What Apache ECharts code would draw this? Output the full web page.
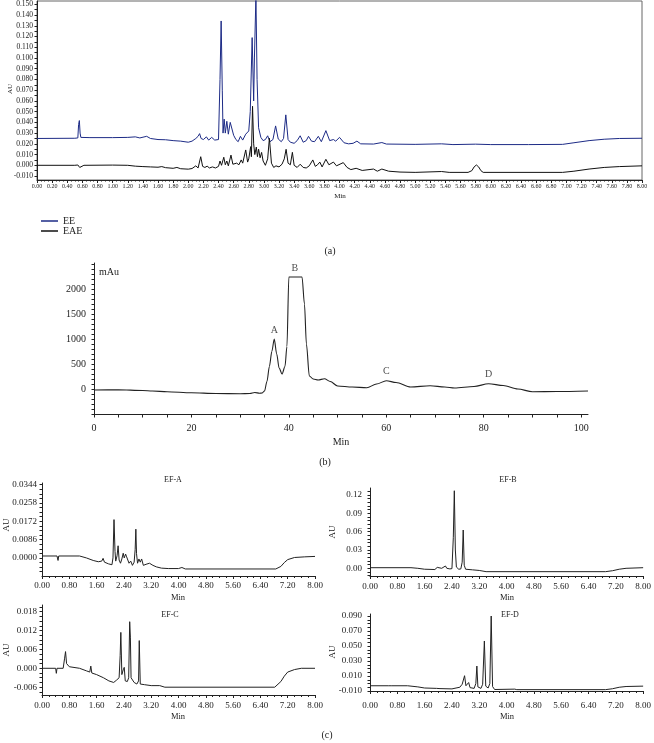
<!DOCTYPE html>
<html>
<head>
<meta charset="utf-8">
<title>Chromatograms</title>
<script src="https://cdn.jsdelivr.net/npm/echarts@6/dist/echarts.min.js"></script>
<style>
  html, body { margin: 0; padding: 0; background: #fff; }
  #chart { width: 654px; height: 743px; }
</style>
</head>
<body>
<div id="chart"></div>
<script>
// ---- (a) EE / EAE, time (min) vs absorbance (AU)
const eeTime = [0, 0.5, 0.54, 0.55, 0.56, 0.57, 0.58, 0.7, 1.0, 1.2, 1.3, 1.36, 1.45, 1.5, 1.6, 1.7, 1.8, 1.9, 2.0, 2.05,
  2.1, 2.13, 2.15, 2.17, 2.2, 2.24, 2.27, 2.31, 2.35, 2.4, 2.42, 2.435, 2.45, 2.46, 2.475, 2.49, 2.51, 2.53, 2.555, 2.58,
  2.6, 2.63, 2.66, 2.69, 2.72, 2.76, 2.8, 2.82, 2.845, 2.865, 2.875, 2.895, 2.91, 2.93, 2.96, 2.99, 3.02, 3.05, 3.08, 3.12,
  3.155, 3.19, 3.23, 3.26, 3.29, 3.32, 3.35, 3.4, 3.44, 3.48, 3.52, 3.56, 3.59, 3.63, 3.67, 3.72, 3.76, 3.82, 3.87, 3.92,
  3.95, 4.0, 4.06, 4.12, 4.18, 4.23, 4.28, 4.45, 4.56, 4.62, 5.0, 5.35, 5.5, 5.8, 6.0, 6.5, 6.95, 7.1, 7.3, 7.5, 7.7, 8.0];
const eeAU = [0.025, 0.0252, 0.0255, 0.038, 0.0417, 0.03, 0.026, 0.0258, 0.0258, 0.026, 0.0265, 0.0255, 0.027, 0.025, 0.024, 0.0238, 0.023, 0.0225, 0.0215, 0.0225,
  0.025, 0.027, 0.0295, 0.025, 0.024, 0.0265, 0.0235, 0.026, 0.0235, 0.024, 0.08, 0.1345, 0.07, 0.03, 0.043, 0.03, 0.041, 0.029, 0.04, 0.04,
  0.028, 0.024, 0.022, 0.027, 0.0235, 0.029, 0.032, 0.05, 0.119, 0.06, 0.1, 0.158, 0.08, 0.035, 0.026, 0.023, 0.024, 0.0275, 0.022, 0.024,
  0.0367, 0.0245, 0.022, 0.025, 0.047, 0.024, 0.0215, 0.0205, 0.023, 0.0275, 0.0215, 0.023, 0.027, 0.0225, 0.022, 0.027, 0.022, 0.0323, 0.023, 0.024,
  0.0225, 0.026, 0.021, 0.02, 0.0205, 0.0225, 0.02, 0.0198, 0.0212, 0.0198, 0.0195, 0.02, 0.0193, 0.0197, 0.0193, 0.0193, 0.0195, 0.021, 0.023, 0.0243, 0.025, 0.0252];

const eaeTime = [0, 0.5, 0.54, 0.555, 0.565, 0.58, 0.62, 1.0, 1.2, 1.3, 1.4, 1.5, 1.6, 1.65, 1.7, 1.8, 1.85, 1.9, 2.0, 2.05,
  2.1, 2.13, 2.165, 2.19, 2.22, 2.25, 2.28, 2.32, 2.36, 2.4, 2.42, 2.44, 2.47, 2.49, 2.51, 2.53, 2.565, 2.59, 2.61, 2.64,
  2.67, 2.7, 2.72, 2.76, 2.785, 2.8, 2.825, 2.835, 2.85, 2.865, 2.88, 2.9, 2.915, 2.93, 2.95, 2.97, 2.99, 3.02, 3.05, 3.073,
  3.1, 3.13, 3.16, 3.2, 3.24, 3.27, 3.294, 3.32, 3.35, 3.377, 3.4, 3.44, 3.48, 3.52, 3.56, 3.6, 3.647, 3.68, 3.71, 3.74,
  3.77, 3.82, 3.86, 3.92, 3.96, 4.05, 4.1, 4.15, 4.22, 4.3, 4.45, 4.5, 4.56, 4.65, 4.8, 5.0, 5.35, 5.45, 5.7, 5.75,
  5.78, 5.81, 5.84, 5.87, 5.9, 6.95, 7.1, 7.3, 7.5, 7.7, 8.0];
const eaeAU = [0, 0, 0.0003, 0.002, -0.002, -0.001, 0, 0.0002, 0, -0.0008, -0.0012, -0.0015, -0.0018, -0.0012, -0.0022, -0.0028, -0.002, -0.0032, -0.0036, -0.003,
  -0.0005, -0.0025, 0.008, -0.001, -0.002, -0.0008, -0.0025, -0.0015, -0.0025, -0.001, 0.004, 0, 0.0075, 0.0005, 0.004, -0.0005, 0.0095, 0.001, -0.0005, 0.002,
  0.0005, 0.005, 0.002, 0.0143, 0.003, 0.006, 0.0174, 0.008, 0.055, 0.02, 0.01, 0.017, 0.008, 0.015, 0.007, 0.012, 0.004, 0, 0.006, 0.0252,
  0.002, -0.002, -0.0005, -0.0015, 0.001, 0.006, 0.0149, 0.002, 0.0005, 0.0121, 0, -0.002, 0.001, -0.002, -0.0025, -0.0005, 0.005, -0.001, 0.0005, 0.003,
  -0.0015, 0.0056, 0.0005, 0.003, -0.0005, 0.0025, -0.002, -0.004, -0.0028, -0.0048, -0.0035, -0.0055, -0.0035, -0.0055, -0.0063, -0.0066, -0.0058, -0.0066, -0.0066, -0.005,
  -0.0015, 0.0003, -0.0015, -0.005, -0.0066, -0.0066, -0.0055, -0.0035, -0.002, -0.0012, -0.0005];

// ---- (b) time (min) vs mAu, peaks A-D
const bTime = [0, 5, 10, 12, 15, 20, 25, 30, 32, 33, 34, 34.5, 35, 35.5, 36, 36.5, 37, 37.5, 38, 38.6,
  39.2, 39.6, 40, 42.7, 43.2, 43.6, 44.2, 45, 46, 47.3, 48.5, 50, 53, 56, 58, 60, 62, 65, 69, 72,
  74, 78, 81, 84, 87, 90, 95, 101.4];
const bMau = [-20, -15, -30, -40, -55, -75, -90, -95, -90, -70, -85, -80, -40, 150, 450, 750, 1000, 700, 420, 300,
  450, 850, 2240, 2240, 1700, 900, 260, 200, 180, 205, 150, 60, 40, 25, 100, 165, 130, 40, 65, 40,
  20, 50, 105, 70, 0, -55, -50, -40];
const peakNames = ['A', 'B', 'C', 'D'];
const peakTimes = [37, 41.2, 60, 81];
const peakMau = [1000, 2240, 165, 105];

// ---- (c) four fractions, time (min) vs AU
const efATime = [0, 0.44, 0.47, 0.49, 1.1, 1.3, 1.5, 1.65, 1.75, 1.79, 1.83, 1.95, 2.05, 2.08, 2.11, 2.14, 2.16, 2.2, 2.23, 2.26,
  2.3, 2.34, 2.38, 2.41, 2.45, 2.48, 2.52, 2.55, 2.6, 2.65, 2.7, 2.73, 2.75, 2.77, 2.8, 2.84, 2.88, 2.92, 2.97, 3.05,
  3.15, 3.25, 3.35, 3.5, 3.7, 4.0, 4.1, 4.2, 6.85, 7.0, 7.1, 7.2, 7.4, 7.7, 8.0];
const efAAU = [0.0009, 0.0009, -0.0012, 0.0009, 0.0009, 0, -0.0012, -0.0018, -0.0015, -0.0002, -0.002, -0.0028, -0.0032, 0, 0.018, 0.003, -0.0015, 0.001, 0.0057, -0.001,
  -0.0025, -0.0005, 0.0022, 0, 0.0018, 0.0005, 0.001, -0.0025, -0.0015, -0.0035, -0.002, 0.004, 0.0135, 0.002, -0.0025, -0.0005, -0.002, -0.0005, -0.0035, -0.003,
  -0.0025, -0.0035, -0.0042, -0.0048, -0.005, -0.005, -0.0045, -0.0052, -0.0052, -0.004, -0.0022, -0.0008, 0.0002, 0.0005, 0.0007];

const efBTime = [0, 1.2, 1.4, 1.6, 1.9, 1.97, 2.02, 2.1, 2.15, 2.21, 2.25, 2.29, 2.34, 2.4, 2.44, 2.47, 2.5, 2.53, 2.6, 2.66,
  2.7, 2.73, 2.76, 2.8, 3.0, 3.2, 3.4, 6.9, 7.1, 7.3, 7.5, 8.0];
const efBAU = [0.001, 0.001, 0, -0.0015, -0.002, 0.0015, -0.0015, 0, -0.001, 0.0038, 0, 0.002, -0.001, -0.0005, 0.05, 0.127, 0.03, 0.002, -0.0015, -0.001,
  0.01, 0.0627, 0.005, -0.0015, -0.0025, -0.0035, -0.0055, -0.0055, -0.004, -0.0015, 0, 0.001];

const efCTime = [0, 0.4, 0.42, 0.44, 0.62, 0.66, 0.69, 0.72, 0.8, 1.1, 1.3, 1.4, 1.43, 1.46, 1.6, 1.8, 1.96, 2.1, 2.18, 2.22,
  2.26, 2.29, 2.31, 2.34, 2.38, 2.41, 2.44, 2.5, 2.54, 2.57, 2.59, 2.61, 2.65, 2.7, 2.78, 2.83, 2.85, 2.88, 3.0, 3.2,
  3.45, 3.6, 6.82, 7.0, 7.1, 7.2, 7.4, 7.6, 8.0];
const efCAU = [0, 0, -0.0016, 0, 0, 0.003, 0.0053, 0.0015, 0.0005, 0, -0.0008, -0.0012, 0.0007, -0.0015, -0.002, -0.003, -0.004, -0.0045, -0.0038, -0.0035,
  -0.003, 0.004, 0.0114, -0.002, -0.0005, 0.0003, -0.004, -0.0042, -0.003, 0.0148, 0.0099, -0.003, -0.0035, -0.0045, -0.005, -0.004, 0.0088, -0.005, -0.0052, -0.0055,
  -0.0055, -0.006, -0.006, -0.0042, -0.0025, -0.0012, -0.0004, 0, 0];

const efDTime = [0, 0.55, 0.58, 0.62, 1.1, 1.4, 1.6, 1.95, 2.0, 2.05, 2.4, 2.52, 2.56, 2.63, 2.7, 2.77, 2.81, 2.85, 2.89, 2.93,
  3.05, 3.1, 3.13, 3.16, 3.25, 3.3, 3.35, 3.39, 3.46, 3.51, 3.55, 3.59, 3.65, 4.24, 4.3, 6.9, 7.1, 7.3, 7.5, 8.0];
const efDAU = [-0.003, -0.003, -0.005, -0.003, -0.003, -0.0045, -0.006, -0.0065, -0.005, -0.0068, -0.0072, -0.006, -0.007, -0.005, -0.001, 0.0104, -0.003, -0.002, 0.0013, -0.0055,
  -0.0065, 0, 0.0233, -0.0045, -0.0065, -0.001, 0.0567, -0.0035, -0.006, 0, 0.09, -0.004, -0.008, -0.0075, -0.0082, -0.0082, -0.007, -0.005, -0.004, -0.0035];

const serif = 'Liberation Serif';
const ink = '#222';

function zip(xs, ys) {
  return xs.map((x, i) => [x, ys[i]]);
}
function steps(from, to, step) {
  const out = [];
  const n = Math.round((to - from) / step);
  for (let i = 0; i <= n; i++) out.push(+(from + i * step).toFixed(6));
  return out;
}

// value axis with hand-placed tick / label positions
function yAxis(grid, min, max, labels, ticks, digits, fontSize, margin) {
  return {
    type: 'value', gridIndex: grid, min: min, max: max,
    axisLine: { show: true, lineStyle: { color: ink, width: 1 } },
    axisTick: { show: true, length: 2.5, customValues: ticks, lineStyle: { color: ink } },
    axisLabel: {
      customValues: labels, margin: margin, color: ink, fontFamily: serif, fontSize: fontSize,
      formatter: v => v.toFixed(digits)
    },
    splitLine: { show: false }
  };
}
function timeAxis(grid, fontSize, margin) {
  return {
    type: 'value', gridIndex: grid, min: 0, max: 8, interval: 0.8,
    axisLine: { show: true, onZero: false, lineStyle: { color: ink, width: 1 } },
    axisTick: { show: true, length: 3, lineStyle: { color: ink } },
    minorTick: { show: true, splitNumber: 4, length: 2, lineStyle: { color: ink } },
    axisLabel: { margin: margin, color: ink, fontFamily: serif, fontSize: fontSize, formatter: v => v.toFixed(2) },
    splitLine: { show: false }
  };
}
function trace(name, x, y, data, color, width) {
  return {
    name: name, type: 'line', xAxisIndex: x, yAxisIndex: y, data: data,
    showSymbol: false, symbol: 'none', silent: true,
    itemStyle: { color: color },
    lineStyle: { color: color, width: width }
  };
}
function text(str, x, y, size, rotate) {
  return {
    type: 'text', x: x, y: y, rotation: rotate ? Math.PI / 2 : 0, silent: true,
    style: { text: str, fill: ink, font: size + 'px "Liberation Serif"', align: 'center', verticalAlign: 'middle' }
  };
}

const chart = echarts.init(document.getElementById('chart'));

const option = {
  animation: false,
  backgroundColor: '#fff',
  grid: [
    { left: 37, top: 1, width: 605, height: 179, show: true, borderColor: '#666', borderWidth: 1 },
    { left: 94, top: 263, width: 494, height: 151 },
    { left: 42, top: 483, width: 273, height: 93 },
    { left: 370, top: 488, width: 278, height: 88 },
    { left: 42, top: 605, width: 273, height: 90 },
    { left: 370, top: 614, width: 277, height: 77 }
  ],
  xAxis: [
    {
      type: 'value', gridIndex: 0, min: 0, max: 8, interval: 0.2,
      axisLine: { show: true, onZero: false, lineStyle: { color: ink, width: 1 } },
      axisTick: { show: true, length: 3, lineStyle: { color: ink } },
      minorTick: { show: true, splitNumber: 4, length: 1.5, lineStyle: { color: ink } },
      axisLabel: { interval: 0, hideOverlap: false, margin: 3, color: ink, fontFamily: serif, fontSize: 6, formatter: v => v.toFixed(2) },
      splitLine: { show: false }
    },
    {
      type: 'value', gridIndex: 1, min: 0, max: 101.4,
      axisLine: { show: true, onZero: false, lineStyle: { color: ink, width: 1 } },
      axisTick: { show: true, length: 3.5, customValues: steps(0, 100, 5), lineStyle: { color: ink } },
      axisLabel: { customValues: steps(0, 100, 20), margin: 9, color: ink, fontFamily: serif, fontSize: 10 },
      splitLine: { show: false }
    },
    timeAxis(2, 9, 5),
    timeAxis(3, 9, 6),
    timeAxis(4, 9, 6),
    timeAxis(5, 9, 10)
  ],
  yAxis: [
    yAxis(0, -0.0137, 0.1531, steps(-0.01, 0.15, 0.01), steps(-0.01, 0.15, 0.005), 3, 7.5, 4),
    yAxis(1, -500, 2520, steps(0, 2000, 500), steps(-500, 2500, 100), 0, 10, 8),
    yAxis(2, -0.0085, 0.0352, steps(0, 0.0344, 0.0086), steps(-0.00645, 0.0344, 0.00215), 4, 9, 5),
    yAxis(3, -0.0126, 0.1315, steps(0, 0.12, 0.03), steps(-0.012, 0.126, 0.006), 2, 9, 8),
    yAxis(4, -0.00848, 0.0201, steps(-0.006, 0.018, 0.006), steps(-0.0075, 0.0195, 0.0015), 3, 9, 5),
    yAxis(5, -0.010, 0.0927, steps(-0.01, 0.09, 0.02), steps(-0.01, 0.09, 0.005), 3, 9, 8)
  ],
  legend: {
    orient: 'vertical', left: 36, top: 211, itemGap: 0,
    icon: 'rect', itemWidth: 17, itemHeight: 1.5,
    textStyle: { color: ink, fontFamily: serif, fontSize: 10 },
    data: ['EE', 'EAE']
  },
  series: [
    trace('EE', 0, 0, zip(eeTime, eeAU), '#1d2b86', 1),
    trace('EAE', 0, 0, zip(eaeTime, eaeAU), '#111', 1),
    Object.assign(trace('', 1, 1, zip(bTime, bMau), ink, 1.1), { smooth: 0.3, smoothMonotone: 'x' }),
    {
      type: 'scatter', xAxisIndex: 1, yAxisIndex: 1, symbolSize: 0, silent: true,
      data: peakNames.map((n, i) => [peakTimes[i], peakMau[i], n]),
      label: {
        show: true, position: 'top', distance: 4, color: ink, fontFamily: serif, fontSize: 10,
        formatter: p => p.value[2]
      }
    },
    trace('', 2, 2, zip(efATime, efAAU), ink, 1),
    trace('', 3, 3, zip(efBTime, efBAU), ink, 1),
    trace('', 4, 4, zip(efCTime, efCAU), ink, 1),
    trace('', 5, 5, zip(efDTime, efDAU), ink, 1)
  ],
  graphic: [
    text('AU', 10, 89, 7, true),
    text('Min', 340, 196, 7),
    text('(a)', 330, 251, 10),
    text('mAu', 109, 272, 10),
    text('Min', 341, 442, 10),
    text('(b)', 325, 462, 10),
    text('EF-A', 173, 480, 8),
    text('EF-B', 508, 480, 8),
    text('EF-C', 170, 615, 8),
    text('EF-D', 510, 615, 8),
    text('AU', 7, 525, 9, true),
    text('AU', 333, 532, 9, true),
    text('AU', 7, 650, 9, true),
    text('AU', 333, 652, 9, true),
    text('Min', 178, 598, 8.5),
    text('Min', 507, 598, 8.5),
    text('Min', 178, 717, 8.5),
    text('Min', 507, 717, 8.5),
    text('(c)', 327, 735, 10)
  ]
};

chart.setOption(option);
</script>
</body>
</html>
